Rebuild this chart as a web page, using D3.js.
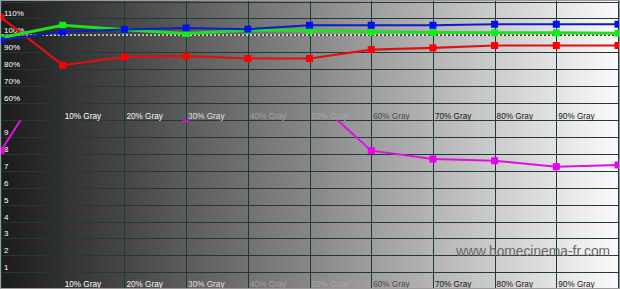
<!DOCTYPE html>
<html>
<head>
<meta charset="utf-8">
<script src="https://cdn.jsdelivr.net/npm/d3@7"></script>
<style>
  body { margin: 0; background: #fff; }
  svg { display: block; font-family: "Liberation Sans", Arial, sans-serif; }
</style>
</head>
<body>
<div id="chart"></div>
<script>
// gray steps, 0..100%
const steps = [0, 1, 2, 3, 4, 5, 6, 7, 8, 9, 10];
const grayLabels = ['10% Gray', '20% Gray', '30% Gray', '40% Gray', '50% Gray',
                    '60% Gray', '70% Gray', '80% Gray', '90% Gray'];

// RGB balance (%)
const redBalance   = [110.6, 82.2, 87.2, 87.6, 86.2, 86.2, 91.5, 92.5, 93.9, 93.9, 93.9];
const greenBalance = [98.5, 105.9, 103.2, 101.0, 103.0, 102.8, 102.0, 101.6, 101.4, 101.4, 101.2];
const blueBalance  = [97.0, 102.0, 103.4, 104.3, 103.6, 105.9, 105.9, 105.9, 106.5, 106.5, 106.5];

// delta E
const deltaE = [8.2, 13.9, 12.2, 10.1, 12.6, 11.5, 8.2, 7.7, 7.6, 7.25, 7.35];

const balanceTicks = [110, 100, 90, 80, 70, 60];
const deltaTicks = [9, 8, 7, 6, 5, 4, 3, 2, 1];

const width = 620, height = 289;

const x = d3.scaleLinear().domain([0, 10]).range([1, 618]);
const yTop = d3.scaleLinear().domain([50, 120]).range([119.5, 1.5]);
const yBot = d3.scaleLinear().domain([0, 10]).range([289, 120.25]);

const svg = d3.select('#chart').append('svg')
    .attr('width', width)
    .attr('height', height);

// background gradient dark -> white
const defs = svg.append('defs');
const grad = defs.append('linearGradient')
    .attr('id', 'bg')
    .attr('x1', '0%').attr('x2', '100%')
    .attr('y1', '0%').attr('y2', '0%');
grad.append('stop').attr('offset', '0%').attr('stop-color', '#1b1b1b');
grad.append('stop').attr('offset', '50%').attr('stop-color', '#878787');
grad.append('stop').attr('offset', '100%').attr('stop-color', '#fbfbfb');

defs.append('clipPath').attr('id', 'clipTop')
    .append('rect').attr('x', 0).attr('y', 0).attr('width', width).attr('height', yTop(50));
defs.append('clipPath').attr('id', 'clipBot')
    .append('rect').attr('x', 0).attr('y', yBot(10)).attr('width', width).attr('height', height - yBot(10));

svg.append('rect')
    .attr('width', width)
    .attr('height', height)
    .attr('fill', 'url(#bg)');

const gridColor = '#1d3b3b';

// horizontal grid lines
const grid = svg.append('g').attr('class', 'grid');
grid.selectAll('.hTop')
    .data([120, 110, 90, 80, 70, 60, 50])
    .enter().append('line')
    .attr('x1', 0).attr('x2', width)
    .attr('y1', d => Math.round(yTop(d)) + 0.5)
    .attr('y2', d => Math.round(yTop(d)) + 0.5)
    .attr('stroke', gridColor);
grid.selectAll('.hBot')
    .data(deltaTicks)
    .enter().append('line')
    .attr('x1', 0).attr('x2', width)
    .attr('y1', d => Math.round(yBot(d)) + 0.5)
    .attr('y2', d => Math.round(yBot(d)) + 0.5)
    .attr('stroke', gridColor);

// vertical grid lines
grid.selectAll('.v')
    .data(steps)
    .enter().append('line')
    .attr('x1', d => Math.round(x(d)) + 0.5)
    .attr('x2', d => Math.round(x(d)) + 0.5)
    .attr('y1', 0).attr('y2', height)
    .attr('stroke', gridColor);

// left axis labels
svg.append('g').selectAll('text')
    .data(balanceTicks)
    .enter().append('text')
    .attr('x', 4)
    .attr('y', d => yTop(d) - 2)
    .style('font-size', '8px')
    .style('fill', '#fff')
    .text(d => d + '%');

svg.append('g').selectAll('text')
    .data(deltaTicks)
    .enter().append('text')
    .attr('x', 4)
    .attr('y', d => yBot(d) - 2)
    .style('font-size', '8px')
    .style('fill', '#fff')
    .text(d => d);

// gray step labels, top and bottom rows
const labelColors = ['#ffffff', '#f4f4f4', '#e0e0e0', '#a4a4a4', '#a8a8a8',
                     '#4a4a4a', '#151515', '#151515', '#151515'];
[118.5, 287].forEach(yy => {
    svg.append('g').selectAll('text')
        .data(grayLabels)
        .enter().append('text')
        .attr('x', (d, i) => x(i + 1) + 2)
        .attr('y', yy)
        .style('font-size', '8.2px')
        .style('fill', (d, i) => labelColors[i])
        .text(d => d);
});

// watermark
svg.append('text')
    .attr('x', 456)
    .attr('y', 256)
    .style('font-size', '13.8px')
    .style('fill', '#686868')
    .text('www.homecinema-fr.com');

// 100% target line
svg.append('line')
    .attr('x1', 0).attr('x2', width)
    .attr('y1', yTop(100)).attr('y2', yTop(100))
    .attr('stroke', '#fff').attr('stroke-width', 1.2);
svg.append('line')
    .attr('x1', 0).attr('x2', width)
    .attr('y1', yTop(100)).attr('y2', yTop(100))
    .attr('stroke', '#000').attr('stroke-width', 1.2)
    .attr('stroke-dasharray', '2,2');

// series
function drawSeries(values, yScale, clip, lineColor, markColor, lineW) {
    const g = svg.append('g').attr('clip-path', `url(#${clip})`);
    const line = d3.line()
        .x((d, i) => x(i))
        .y(d => yScale(d));
    g.append('path')
        .datum(values)
        .attr('d', line)
        .attr('fill', 'none')
        .attr('stroke', lineColor)
        .attr('stroke-width', lineW);
    g.selectAll('rect')
        .data(values)
        .enter().append('rect')
        .attr('x', (d, i) => x(i) - 3.5)
        .attr('y', d => yScale(d) - 3.5)
        .attr('width', 7)
        .attr('height', 7)
        .attr('fill', markColor);
}

drawSeries(redBalance, yTop, 'clipTop', '#e01010', '#ff0000', 2.2);
drawSeries(greenBalance, yTop, 'clipTop', '#22dd22', '#11ee11', 3);
drawSeries(blueBalance, yTop, 'clipTop', '#0a1ec8', '#0011ee', 2);
drawSeries(deltaE, yBot, 'clipBot', '#e010e0', '#ee00ee', 2);

// outer border
svg.append('rect')
    .attr('x', 0.5).attr('y', 0.5)
    .attr('width', width - 1).attr('height', height - 1)
    .attr('fill', 'none')
    .attr('stroke', '#9a9a9a');
</script>
</body>
</html>
